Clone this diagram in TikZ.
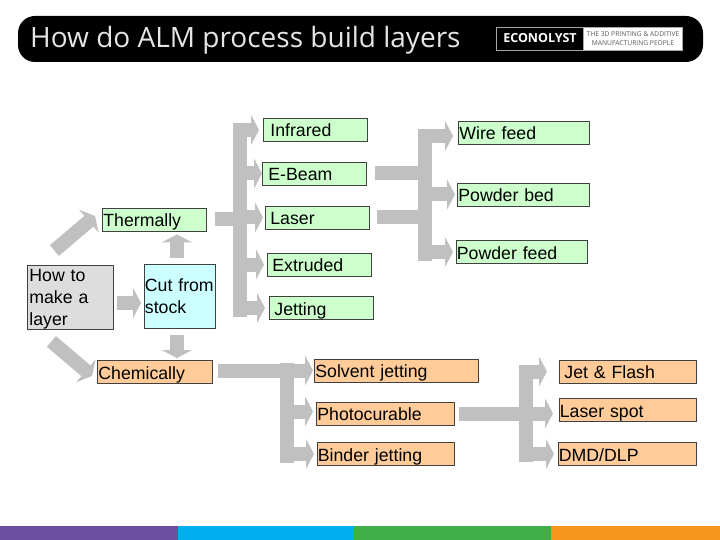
\documentclass[tikz,border=0pt]{standalone}
\usepackage{fontspec}
\setmainfont{Liberation Sans}
\newfontfamily\titlefont{Open Sans}
\usetikzlibrary{arrows.meta}
\definecolor{arrowgray}{RGB}{192, 192, 192}
\definecolor{boxgreen}{RGB}{204, 255, 204}
\definecolor{boxorange}{RGB}{255, 204, 153}
\definecolor{boxcyan}{RGB}{204, 255, 255}
\definecolor{boxgray}{RGB}{221, 221, 221}
\definecolor{barpurple}{RGB}{107, 79, 158}
\definecolor{barblue}{RGB}{0, 174, 239}
\definecolor{bargreen}{RGB}{63, 174, 73}
\definecolor{barorange}{RGB}{247, 148, 30}
\tikzset{
  labelbox/.style={draw=black!75, line width=0.8pt, anchor=west, align=left, inner ysep=0pt,
    minimum height=23pt, font=\fontsize{17.7}{22}\selectfont},
  oneline/.style={labelbox, text height=15pt, text depth=1pt},
  greenbox/.style={oneline, fill=boxgreen},
  orangebox/.style={oneline, fill=boxorange},
  blockarrow/.style={draw=arrowgray, line width=14pt, -{Triangle[length=8pt,width=30pt]}},
  spine/.style={draw=arrowgray, line width=14pt}
}
\begin{document}
\begin{tikzpicture}[x=1pt,y=-1pt]
  \useasboundingbox (0,0) rectangle (720,540);

  % Title bar
  \node[fill=black, rounded corners=17pt, minimum width=685pt, minimum height=46pt, inner sep=0pt] (titlebar) at (360.5,39) {};
  \node[anchor=west, inner sep=0pt, text=black!10, font=\titlefont\fontsize{28}{30}\selectfont] (titletext) at (30,40) {How do ALM process build layers};

  % Logo
  \node[draw=black!35, fill=black, text=white, minimum width=87pt, minimum height=23pt, inner sep=0pt, font=\titlefont\bfseries\fontsize{12.5}{14}\selectfont] (logoleft) at (540,38.5) {ECONOLYST};
  \node[draw=black!35, fill=white, text=black!65, minimum width=99pt, minimum height=23pt, inner sep=0pt, align=center, font=\titlefont\fontsize{6.7}{8.5}\selectfont] (logoright) at (633,38.5) {THE 3D PRINTING \& ADDITIVE\\MANUFACTURING PEOPLE};

  % Left column
  \node[labelbox, fill=boxgray, minimum height=64pt, text width=82pt, inner xsep=2pt, text depth=44pt] (howto) at (27,297) {How to\\make a\\layer};
  \node[labelbox, fill=boxcyan, minimum height=64pt, text width=70pt, inner xsep=0.5pt] (cutstock) at (144,296) {Cut from\\stock};
  \node[greenbox, text width=102pt, inner xsep=1pt] (thermally) at (102,219.5) {Thermally};
  \node[orangebox, text width=113pt, inner xsep=1pt] (chemically) at (97,372) {Chemically};

  % Thermal sources
  \node[greenbox, text width=90pt, inner xsep=7pt] (infrared) at (263,130) {Infrared};
  \node[greenbox, text width=92pt, inner xsep=6pt] (ebeam) at (262,173.5) {E-Beam};
  \node[greenbox, text width=94pt, inner xsep=5pt] (laser) at (265,217.5) {Laser};
  \node[greenbox, text width=94pt, inner xsep=5pt] (extruded) at (267,264.5) {Extruded};
  \node[greenbox, text width=94pt, inner xsep=5pt] (jetting) at (269,308) {Jetting};

  % Feed types
  \node[greenbox, text width=129pt, inner xsep=1pt] (wirefeed) at (458,132.5) {Wire feed};
  \node[greenbox, text width=130pt, inner xsep=1pt] (powderbed) at (457,194.5) {Powder bed};
  \node[greenbox, text width=130pt, inner xsep=0.5pt] (powderfeed) at (456,252) {Powder feed};

  % Chemical routes
  \node[orangebox, text width=162pt, inner xsep=1pt] (solvent) at (314,370.5) {Solvent jetting};
  \node[orangebox, text width=136pt, inner xsep=1pt] (photocurable) at (316,413.5) {Photocurable};
  \node[orangebox, text width=136pt, inner xsep=0.5pt] (binder) at (317,454) {Binder jetting};

  % Exposure types
  \node[orangebox, text width=127pt, inner xsep=5pt] (jetflash) at (559,371.5) {Jet \& Flash};
  \node[orangebox, text width=136pt, inner xsep=0.5pt] (laserspot) at (559,410) {Laser spot};
  \node[orangebox, text width=137pt, inner xsep=0.5pt] (dmd) at (558,454) {DMD/DLP};

  % Spines of the brackets
  \coordinate (spineatop) at (240,123);
  \coordinate (spineabot) at (240,317);
  \coordinate (spinebtop) at (424.5,129);
  \coordinate (spinebbot) at (424.5,261);
  \coordinate (spinectop) at (287,363);
  \coordinate (spinecbot) at (287,463);
  \coordinate (spinedtop) at (526,365);
  \coordinate (spinedbot) at (526,462);
  \draw[spine] (spineatop) -- (spineabot);
  \draw[spine] (spinebtop) -- (spinebbot);
  \draw[spine] (spinectop) -- (spinecbot);
  \draw[spine] (spinedtop) -- (spinedbot);

  % Arrows out of the first box
  \draw[blockarrow] ([shift={(-16,-14)}]howto.north) -- ([shift={(-7,-3.5)}]thermally.west);
  \draw[blockarrow] ([shift={(-19,12)}]howto.south) -- ([shift={(-5,4)}]chemically.west);
  \draw[blockarrow, shorten <=3pt, shorten >=3pt] ([yshift=-6pt]howto.east) -- ([yshift=-7pt]cutstock.west);
  \draw[blockarrow, shorten <=6pt, shorten >=3pt] ([xshift=-3pt]cutstock.north) -- ([xshift=-3pt]cutstock.north |- thermally.south);
  \draw[blockarrow, shorten <=7pt, shorten >=2pt] ([xshift=-3pt]cutstock.south) -- ([xshift=-3pt]cutstock.south |- chemically.north);

  % Into the brackets
  \draw[spine, shorten <=8pt] (thermally.east) -- (spineatop |- thermally.east);
  \draw[spine, shorten <=8pt] (ebeam.east) -- (spinebtop |- ebeam.east);
  \draw[spine, shorten <=7pt] (laser.east) -- (spinebtop |- laser.east);
  \draw[blockarrow, shorten >=1pt, shorten <=5pt] (chemically.east |- solvent.west) -- (solvent.west);
  \draw[blockarrow, shorten >=6pt, shorten <=4pt] (photocurable.east) -- (photocurable.east -| laserspot.west);

  % Out of the brackets
  \foreach \target/\gap in {infrared/4, ebeam/0, laser/2, extruded/3, jetting/4}
    \draw[blockarrow, shorten >=\gap pt] (spineatop |- \target.west) -- (\target.west);
  \draw[blockarrow, shorten >=5pt] ([yshift=-3.5pt]spinebtop |- wirefeed.west) -- ([yshift=-3.5pt]wirefeed.west);
  \draw[blockarrow, shorten >=2pt] (spinebtop |- powderbed.west) -- (powderbed.west);
  \draw[blockarrow, shorten >=3pt] (spinebtop |- powderfeed.west) -- (powderfeed.west);
  \draw[blockarrow, shorten >=3pt] ([yshift=2pt]spinectop |- photocurable.west) -- ([yshift=2pt]photocurable.west);
  \draw[blockarrow, shorten >=3pt] (spinectop |- binder.west) -- (binder.west);
  \draw[blockarrow, shorten >=12pt] (spinedtop |- jetflash.west) -- (jetflash.west);
  \draw[blockarrow, shorten >=4pt] (spinedtop |- dmd.west) -- (dmd.west);

  % Footer strip
  \fill[barpurple] (0,526) rectangle (178,540);
  \fill[barblue] (178,526) rectangle (354,540);
  \fill[bargreen] (354,526) rectangle (551,540);
  \fill[barorange] (551,526) rectangle (720,540);
\end{tikzpicture}
\end{document}
